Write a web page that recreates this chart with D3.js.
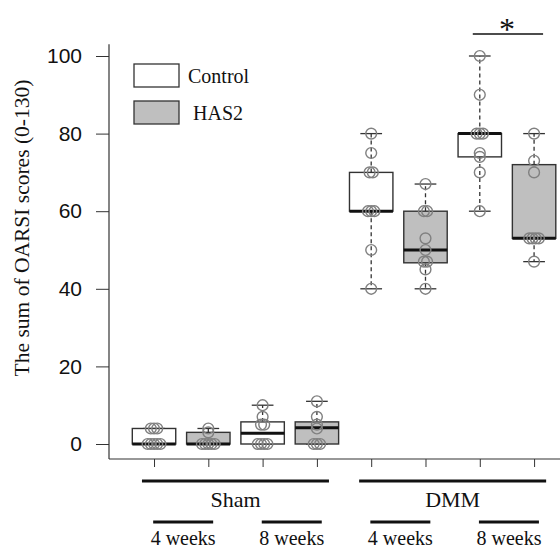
<!DOCTYPE html>
<html><head><meta charset="utf-8">
<script src="https://cdn.jsdelivr.net/npm/d3@7"></script>
<style>body{margin:0;background:#fff}svg{display:block}</style>
</head><body>
<script>
const surgery = ["Sham","Sham","Sham","Sham","DMM","DMM","DMM","DMM"];
const weeks = ["4 weeks","4 weeks","8 weeks","8 weeks","4 weeks","4 weeks","8 weeks","8 weeks"];
const treatment = ["Control","HAS2","Control","HAS2","Control","HAS2","Control","HAS2"];
const whiskerLow = [0, 0, 0, 0, 40, 40, 60, 47];
const q1 = [0, 0, 0, 0, 60, 46.7, 74, 53];
const median = [0, 0, 2.8, 4.2, 60, 50, 80, 53];
const q3 = [4, 3, 5.7, 5.7, 70, 60, 80, 72];
const whiskerHigh = [4, 4, 10, 11, 80, 67, 100, 80];
const points = [
  [0,0,0,0,0,4,4,4],
  [0,0,0,0,0,3,4],
  [0,0,0,0,5,5,7,10],
  [0,0,0,4,5,7,11],
  [40,50,60,60,60,70,70,75,80],
  [40,45,47,47,50,53,60,60,67],
  [60,70,74,75,80,80,80,90,100],
  [47,53,53,53,53,70,73,80]
];
const yTicks = [0,20,40,60,80,100];
const legendItems = ["Control","HAS2"];
const fills = {Control:"#ffffff", HAS2:"#bfbfbf"};
const sigPair = [7,8];

const W=560,H=548;
const svg=d3.select("body").append("svg").attr("width",W).attr("height",H);
const x=d3.scaleLinear().domain([0.18,8.82]).range([109.5,578.6]);
const y=d3.scaleLinear().domain([0,100]).range([444,56]);
const bw = (x(1.8)-x(1))/2;
const serif="'Liberation Serif','Times New Roman',serif";

const ya=svg.append("g").attr("transform","translate(109,0)")
  .call(d3.axisLeft(y).tickValues(yTicks).tickSize(13).tickPadding(14).tickSizeOuter(0));
ya.select(".domain").remove();
ya.selectAll("line").attr("stroke","#333").attr("stroke-width",1);
ya.selectAll("text").attr("font-family","'Liberation Sans',Arial,sans-serif").attr("font-size",21).attr("fill","#111");
svg.append("line").attr("x1",109).attr("x2",109).attr("y1",y(103)).attr("y2",459).attr("stroke","#333").attr("stroke-width",1.2);
const xa=svg.append("g").attr("transform","translate(0,459)")
  .call(d3.axisBottom(x).tickValues(d3.range(1,9)).tickSize(8).tickFormat(""));
xa.select(".domain").remove();
xa.selectAll("line").attr("stroke","#333");
svg.append("line").attr("x1",109).attr("x2",560).attr("y1",459).attr("y2",459).attr("stroke","#333").attr("stroke-width",1.2);

svg.append("text").attr("transform","translate(29,228) rotate(-90)").attr("text-anchor","middle")
  .attr("font-family",serif).attr("font-size",21.5).attr("fill","#111").text("The sum of OARSI scores (0-130)");

d3.range(8).forEach(i=>{
  const cx=x(i+1);
  const g=svg.append("g");
  const dash="4,3";
  g.append("line").attr("x1",cx).attr("x2",cx).attr("y1",y(q3[i])).attr("y2",y(whiskerHigh[i])).attr("stroke","#333").attr("stroke-width",1.3).attr("stroke-dasharray",dash);
  g.append("line").attr("x1",cx).attr("x2",cx).attr("y1",y(q1[i])).attr("y2",y(whiskerLow[i])).attr("stroke","#333").attr("stroke-width",1.3).attr("stroke-dasharray",dash);
  [whiskerHigh[i],whiskerLow[i]].forEach(v=>{
    g.append("line").attr("x1",cx-bw/2).attr("x2",cx+bw/2).attr("y1",y(v)).attr("y2",y(v)).attr("stroke","#333").attr("stroke-width",1.3);
  });
  g.append("rect").attr("x",cx-bw).attr("width",2*bw).attr("y",y(q3[i])).attr("height",Math.max(0,y(q1[i])-y(q3[i])))
    .attr("fill",fills[treatment[i]]).attr("stroke","#333").attr("stroke-width",1.4);
  g.append("line").attr("x1",cx-bw).attr("x2",cx+bw).attr("y1",y(median[i])).attr("y2",y(median[i])).attr("stroke","#111").attr("stroke-width",3);
});

points.forEach((arr,i)=>{
  const counts=d3.rollup(arr,v=>v.length,d=>d);
  const seen=new Map();
  arr.forEach(v=>{
    const c=counts.get(v); const k=seen.get(v)||0; seen.set(v,k+1);
    const off=(k-(c-1)/2)*3.2;
    svg.append("circle").attr("cx",x(i+1)+off).attr("cy",y(v)).attr("r",5.4)
      .attr("fill","none").attr("stroke","#808080").attr("stroke-width",1.4);
  });
});

legendItems.forEach((t,k)=>{
  const ly=64+k*37;
  svg.append("rect").attr("x",134).attr("y",ly).attr("width",45).attr("height",23)
    .attr("fill",fills[t]).attr("stroke","#333").attr("stroke-width",1.3);
  svg.append("text").attr("x",k===0?188:193).attr("y",ly+19).attr("font-family",serif).attr("font-size",20).attr("fill","#111").text(t);
});

svg.append("line").attr("x1",x(sigPair[0])-7).attr("x2",x(sigPair[1])+9).attr("y1",34).attr("y2",34).attr("stroke","#111").attr("stroke-width",1.5);
svg.append("text").attr("x",(x(sigPair[0])+x(sigPair[1]))/2).attr("y",40).attr("text-anchor","middle")
  .attr("font-family",serif).attr("font-size",32).attr("fill","#111").text("*");

const groups=Array.from(new Set(surgery));
groups.forEach(gname=>{
  const idx=d3.range(8).filter(i=>surgery[i]===gname);
  const c=(x(idx[0]+1)+x(idx[idx.length-1]+1))/2;
  svg.append("line").attr("x1",c-93.5).attr("x2",c+93.5).attr("y1",481).attr("y2",481).attr("stroke","#111").attr("stroke-width",3);
  svg.append("text").attr("x",c).attr("y",507).attr("text-anchor","middle").attr("font-family",serif).attr("font-size",22).attr("fill","#111").text(gname);
});
d3.range(0,8,2).forEach(i=>{
  const c=(x(i+1)+x(i+2))/2+2;
  svg.append("line").attr("x1",c-30).attr("x2",c+30).attr("y1",522).attr("y2",522).attr("stroke","#111").attr("stroke-width",3);
  svg.append("text").attr("x",c).attr("y",545).attr("text-anchor","middle").attr("font-family",serif).attr("font-size",20).attr("fill","#111").text(weeks[i]);
});
</script>
</body></html>
